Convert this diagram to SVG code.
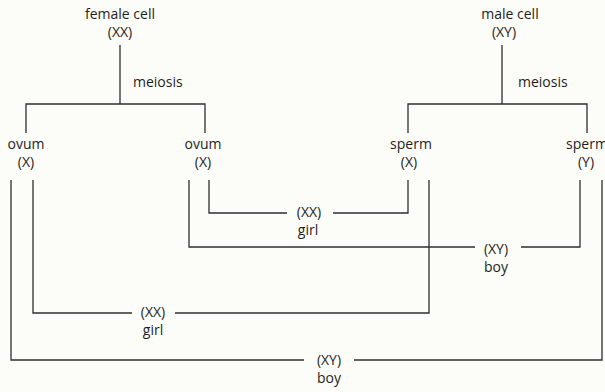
<svg xmlns="http://www.w3.org/2000/svg" width="605" height="392" viewBox="0 0 605 392">
<style>
text{font-family:"Open Sans","Liberation Sans",sans-serif;font-size:14px;fill:#1e1e1e;text-anchor:middle}
.l{text-anchor:start}
.c{fill:none;stroke:#2e2e2e;stroke-width:1.3}
</style>
<rect width="605" height="392" fill="#fcfcf8"/>
<g id="connectors" class="c">
<path d="M120 45V104M26 133V104H205V133"/>
<path d="M502 45V104M408 133V104H587V133"/>
<path d="M209 180V213H287M333 213H408V180"/>
<path d="M189 180V247H475M521 247H580V180"/>
<path d="M33 180V313H132M175 313H429V180"/>
<path d="M11 180V360H304M354 360H602V180"/>
</g>
<g id="female-cell"><text x="120" y="19">female cell</text><text x="120" y="37">(XX)</text></g>
<g id="male-cell"><text x="510" y="19">male cell</text><text x="504" y="37">(XY)</text></g>
<g id="meiosis-female"><text class="l" x="133" y="87">meiosis</text></g>
<g id="meiosis-male"><text class="l" x="518" y="87">meiosis</text></g>
<g id="ovum1"><text x="26" y="149">ovum</text><text x="26" y="167">(X)</text></g>
<g id="ovum2"><text x="203" y="149">ovum</text><text x="203" y="167">(X)</text></g>
<g id="sperm-x"><text x="411" y="149">sperm</text><text x="409" y="167">(X)</text></g>
<g id="sperm-y"><text x="587" y="149">sperm</text><text x="586" y="167">(Y)</text></g>
<g id="girl1"><text x="309" y="217">(XX)</text><text x="308" y="235">girl</text></g>
<g id="boy1"><text x="496" y="254">(XY)</text><text x="496" y="272">boy</text></g>
<g id="girl2"><text x="153" y="317">(XX)</text><text x="153" y="335">girl</text></g>
<g id="boy2"><text x="329" y="365">(XY)</text><text x="329" y="383">boy</text></g>
</svg>
